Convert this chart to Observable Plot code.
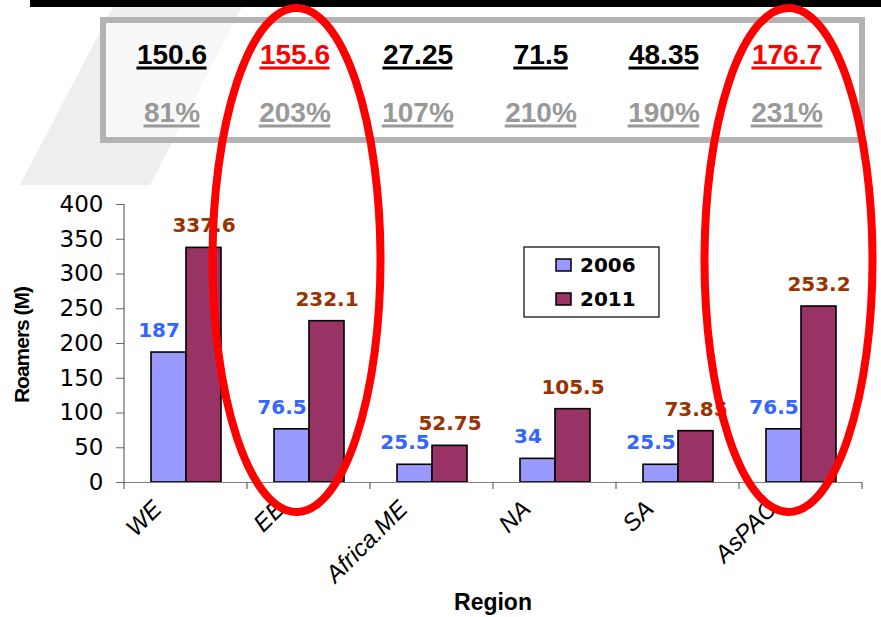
<!DOCTYPE html>
<html>
<head>
<meta charset="utf-8">
<script src="https://cdn.jsdelivr.net/npm/d3@7"></script>
<script src="https://cdn.jsdelivr.net/npm/@observablehq/plot@0.6"></script>
<style>
  html, body { margin: 0; padding: 0; background: #ffffff; }
  #chart { width: 881px; height: 617px; overflow: hidden; }
</style>
</head>
<body>
<div id="chart"></div>
<script>
// ---- Data ----
const regions = ["WE", "EE", "Africa.ME", "NA", "SA", "AsPAC"];
const years = ["2006", "2011"];
const values2006 = [187, 76.5, 25.5, 34, 25.5, 76.5];
const values2011 = [337.6, 232.1, 52.75, 105.5, 73.85, 253.2];
const growthAbs = ["150.6", "155.6", "27.25", "71.5", "48.35", "176.7"];
const growthPct = ["81%", "203%", "107%", "210%", "190%", "231%"];
const highlighted = ["EE", "AsPAC"];
const yTicks = [0, 50, 100, 150, 200, 250, 300, 350, 400];
const barColors = {"2006": "#9999ff", "2011": "#993366"};
const labelColors = {"2006": "#3366ff", "2011": "#993300"};

// ---- Tables built from the arrays ----
const bars = [];
regions.forEach((r, i) => {
  bars.push({region: r, year: "2006", value: values2006[i]});
  bars.push({region: r, year: "2011", value: values2011[i]});
});
const table = regions.map((r, i) => ({
  region: r, abs: growthAbs[i], pct: growthPct[i], hi: highlighted.includes(r)
}));

const TABLE_FS = 28;
const TABLE_DX = -14;
const ROW1_DY = -149;
const ROW2_DY = -91;

const plot = Plot.plot({
  width: 881,
  height: 617,
  marginTop: 204,
  marginBottom: 135,
  marginLeft: 121,
  marginRight: 17,
  style: {fontFamily: "'Liberation Sans', Arial, sans-serif", background: "transparent", overflow: "visible"},
  fx: {domain: regions, paddingInner: 0, paddingOuter: 0, axis: null, label: null},
  x: {domain: years, paddingInner: 0, paddingOuter: 0.75, axis: null, label: null},
  y: {domain: [0, 400], axis: null},
  marks: [
    Plot.barY(bars, {fx: "region", x: "year", y: "value", fill: d => barColors[d.year], stroke: "black", strokeWidth: 1.6}),
    Plot.ruleY([0], {stroke: "#808080", strokeWidth: 1.2}),
    Plot.text(bars.filter(d => d.year === "2006"), {
      fx: "region", x: "year", y: "value", text: d => String(d.value),
      fill: labelColors["2006"], dy: -22, dx: -10,
      fontFamily: "'DejaVu Sans', Verdana, sans-serif", fontWeight: "bold", fontSize: 20
    }),
    Plot.text(bars.filter(d => d.year === "2011"), {
      fx: "region", x: "year", y: "value", text: d => String(d.value),
      fill: labelColors["2011"], dy: -22,
      fontFamily: "'DejaVu Sans', Verdana, sans-serif", fontWeight: "bold", fontSize: 20
    }),
    Plot.axisY({
      ticks: yTicks, tickSize: 8, tickPadding: 13, label: null, fontSize: 23,
      fontFamily: "'DejaVu Sans', Arial, sans-serif", stroke: "#666", fill: "black"
    }),
    // rotated region labels
    Plot.text(regions, {
      fx: d => d, text: d => d, frameAnchor: "bottom", lineAnchor: "bottom", rotate: -45, textAnchor: "end",
      dx: -23, dy: 28, fontSize: 24, fontStyle: "italic", fill: "black"
    }),
    // top table: absolute growth
    Plot.text(table, {
      fx: "region", text: "abs", frameAnchor: "top", lineAnchor: "middle", dx: TABLE_DX, dy: ROW1_DY,
      fill: d => d.hi ? "#ff0000" : "#000000", fontSize: TABLE_FS, fontWeight: "bold"
    }),
    // top table: growth percentage
    Plot.text(table, {
      fx: "region", text: "pct", frameAnchor: "top", lineAnchor: "middle", dx: TABLE_DX, dy: ROW2_DY,
      fill: "#999999", fontSize: TABLE_FS, fontWeight: "bold"
    })
  ]
});

document.getElementById("chart").appendChild(plot);

// ---- Decorations derived from the scales ----
const svg = d3.select(plot);
const fx = plot.scale("fx");
const ys = plot.scale("y");
const bw = fx.bandwidth;
const xLeft = fx.apply(regions[0]);
const xRight = fx.apply(regions[regions.length - 1]) + bw;
const yZero = ys.apply(0);
const yTop = ys.apply(400);

// background decoration (behind everything)
const bg = svg.insert("g", ":first-child");
bg.append("polygon").attr("points", "113,7 242,7 150,185 20,185").attr("fill", "#eeeeee");
bg.append("rect").attr("x", 30).attr("y", 0).attr("width", 851).attr("height", 7).attr("fill", "#000");
bg.append("rect").attr("x", 103).attr("y", 20).attr("width", 759).attr("height", 120)
  .attr("fill", "rgba(255,255,255,0.6)").attr("stroke", "#b3b3b3").attr("stroke-width", 6);

// underline the table numbers: width measured with a temporary text element
function measure(str) {
  const t = svg.append("text").attr("font-size", TABLE_FS).attr("font-weight", "bold")
    .attr("font-family", "'Liberation Sans', Arial, sans-serif").text(str);
  const w = t.node().getComputedTextLength();
  t.remove();
  return w;
}
const ul = svg.append("g");
function underline(key, rowDy, colorOf) {
  table.forEach(d => {
    const w = measure(d[key]);
    const cx = fx.apply(d.region) + bw / 2 + TABLE_DX;
    const base = yTop + rowDy + 0.32 * TABLE_FS;
    ul.append("line").attr("x1", cx - w / 2).attr("x2", cx + w / 2)
      .attr("y1", base + 4).attr("y2", base + 4)
      .attr("stroke", colorOf(d)).attr("stroke-width", 3);
  });
}
underline("abs", ROW1_DY, d => d.hi ? "#ff0000" : "#000000");
underline("pct", ROW2_DY, () => "#999999");

const deco = svg.append("g");
// y axis line
deco.append("line").attr("x1", xLeft).attr("x2", xLeft).attr("y1", yTop).attr("y2", yZero)
  .attr("stroke", "#666").attr("stroke-width", 1.2);
// category boundary ticks
const bounds = regions.map(r => fx.apply(r)).concat([xRight]);
deco.selectAll("line.xt").data(bounds).join("line")
  .attr("x1", d => d).attr("x2", d => d).attr("y1", yZero).attr("y2", yZero + 7)
  .attr("stroke", "#666").attr("stroke-width", 1.2);

// y axis title
deco.append("text").attr("transform", `translate(29,${(yTop + yZero) / 2 + 2}) rotate(-90)`)
  .attr("text-anchor", "middle").attr("font-size", 21).attr("font-weight", "bold")
  .attr("letter-spacing", "-1").attr("fill", "black").text("Roamers (M)");
// x axis title
deco.append("text").attr("x", (xLeft + xRight) / 2).attr("y", 610)
  .attr("text-anchor", "middle").attr("font-size", 23).attr("font-weight", "bold")
  .attr("fill", "black").text("Region");

// legend
const lg = deco.append("g");
lg.append("rect").attr("x", 524).attr("y", 247).attr("width", 135).attr("height", 70)
  .attr("fill", "white").attr("stroke", "black").attr("stroke-width", 1.2);
years.forEach((yr, i) => {
  lg.append("rect").attr("x", 556).attr("y", 259 + i * 34).attr("width", 15).attr("height", 12)
    .attr("fill", barColors[yr]).attr("stroke", "black").attr("stroke-width", 1.5);
  lg.append("text").attr("x", 580).attr("y", 272 + i * 34).attr("text-anchor", "start")
    .attr("font-family", "'DejaVu Sans', Verdana, sans-serif").attr("font-weight", "bold")
    .attr("font-size", 20).attr("fill", "black").text(yr);
});

// red highlight ellipses
highlighted.forEach(r => {
  deco.append("ellipse").attr("cx", fx.apply(r) + bw / 2 - 12).attr("cy", 260)
    .attr("rx", 84).attr("ry", 252)
    .attr("fill", "none").attr("stroke", "#ff0000").attr("stroke-width", 8);
});
</script>
</body>
</html>
